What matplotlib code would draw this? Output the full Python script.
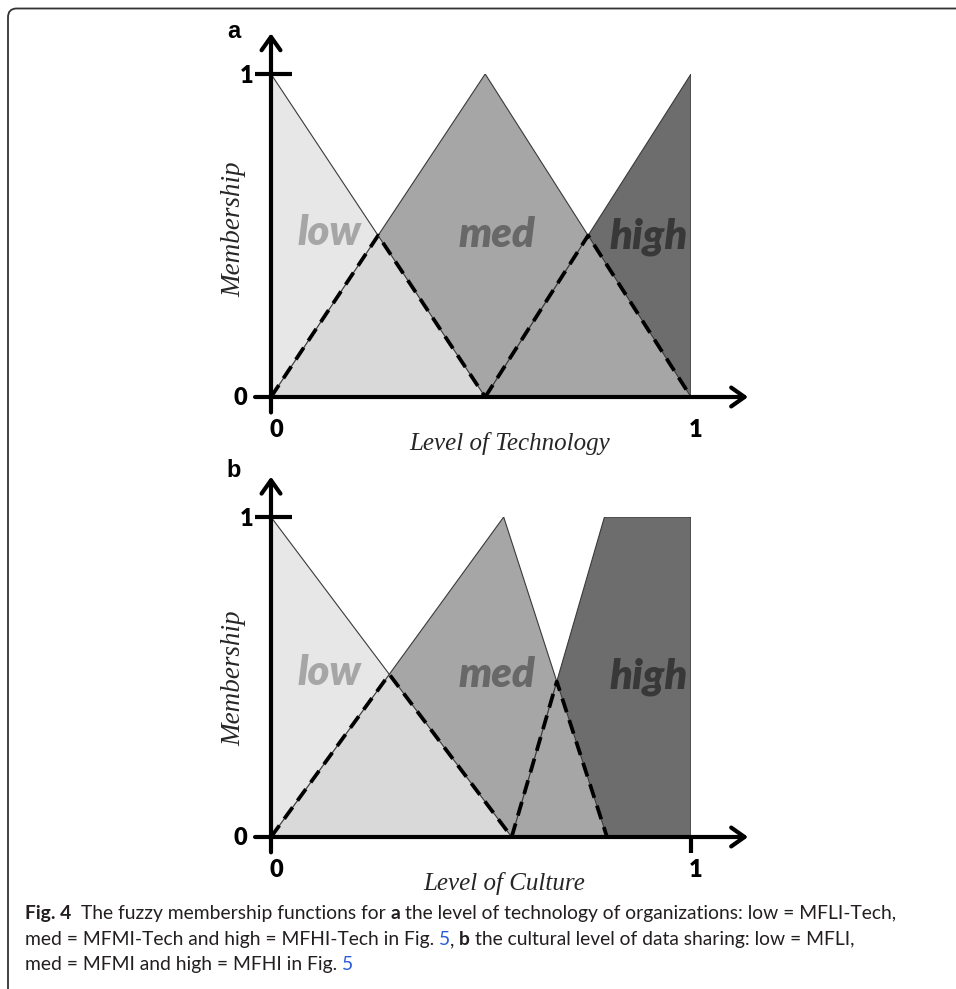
import numpy as np
import matplotlib
matplotlib.use("Agg")
import matplotlib.pyplot as plt
from matplotlib.patches import FancyBboxPatch

# panel a: level of technology (polygon vertices of each membership function)
tech_low_x = [0.0, 0.0, 0.51]
tech_low_y = [0.0, 1.0, 0.0]
tech_med_x = [0.0, 0.51, 1.0]
tech_med_y = [0.0, 1.0, 0.0]
tech_high_x = [0.51, 1.0, 1.0]
tech_high_y = [0.0, 1.0, 0.0]

# panel b: level of culture
cult_low_x = [0.0, 0.0, 0.573]
cult_low_y = [0.0, 1.0, 0.0]
cult_med_x = [0.0, 0.554, 0.80]
cult_med_y = [0.0, 1.0, 0.0]
cult_high_x = [0.573, 0.794, 1.0, 1.0]
cult_high_y = [0.0, 1.0, 1.0, 0.0]

set_names = ["low", "med", "high"]
tick_labels = ["0", "1"]

caption = [
    [("Fig. 4", "bold"), ("  The fuzzy membership functions for ", "normal"), ("a", "bold"),
     (" the level of technology of organizations: low = MFLI-Tech,", "normal")],
    [("med = MFMI-Tech and high = MFHI-Tech in Fig. ", "normal"), ("5", "link"), (", ", "normal"),
     ("b", "bold"), (" the cultural level of data sharing: low = MFLI,", "normal")],
    [("med = MFMI and high = MFHI in Fig. ", "normal"), ("5", "link")],
]

W, H = 956, 989
fill_cols = ["#e7e7e7", "#a6a6a6", "#6d6d6d"]
overlap_cols = ["#d9d9d9", "#a6a6a6"]
name_cols = ["#a6a6a6", "#686868", "#383838"]


def upper(xs, ys):
    ux = sorted(set(xs))
    uy = [max(y for x2, y in zip(xs, ys) if x2 == x) for x in ux]
    return ux, uy


def draw_panel(ax, sets, name_y, xlabel, xlabel_x, ylabel_y, tick_right):
    ax.set_xlim(0, 1)
    ax.set_ylim(0, 1)
    ax.axis("off")
    grid = np.linspace(0, 1, 2001)
    mus = []
    for (xs, ys), col in zip(sets, fill_cols):
        ax.fill(xs, ys, color=col, lw=0, zorder=1)
        ux, uy = upper(xs, ys)
        mus.append(np.interp(grid, ux, uy, left=0, right=0))
    overlaps = [np.minimum(mus[i], mus[i + 1]) for i in range(2)]
    for m, col in zip(overlaps, overlap_cols):
        ax.fill_between(grid, 0, m, color=col, lw=0, zorder=2)
    for xs, ys in sets:
        ax.plot(list(xs) + [xs[0]], list(ys) + [ys[0]], color="#3a3a3a", lw=0.8, zorder=3)
    for m in overlaps:
        idx = np.nonzero(m > 0)[0]
        s = slice(max(idx[0] - 1, 0), idx[-1] + 2)
        ax.plot(grid[s], m[s], color="black", lw=2.7, ls=(0, (3.8, 2.2)),
                dash_capstyle="butt", zorder=4)

    # axes with arrows
    arrow = dict(arrowstyle="->,head_length=0.48,head_width=0.34", lw=3.0, color="black",
                 shrinkA=0, shrinkB=0, mutation_scale=20)
    ax.annotate("", xy=(1.136, 0), xytext=(-0.038, 0), arrowprops=arrow,
                annotation_clip=False, zorder=6)
    ax.annotate("", xy=(0, 1.126), xytext=(0, -0.048), arrowprops=arrow,
                annotation_clip=False, zorder=6)
    ax.plot([-0.038, 0.05], [1, 1], color="black", lw=3.0, clip_on=False, zorder=6,
            solid_capstyle="butt")
    if tick_right:
        ax.plot([1, 1], [0, -0.05], color="black", lw=3.0, clip_on=False, zorder=6,
                solid_capstyle="butt")

    tick_kw = dict(family="Lato", fontweight="heavy", fontsize=17, color="black",
                   ha="center", va="baseline")
    ax.text(-0.057, 0.972, tick_labels[1], **tick_kw)
    ax.text(-0.074, -0.025, tick_labels[0], **tick_kw)
    ax.text(0.012, -0.125, tick_labels[0], **tick_kw)
    ax.text(1.012, -0.125, tick_labels[1], **tick_kw)

    ax.text(xlabel_x, -0.165, xlabel, family="Liberation Serif", style="italic",
            fontsize=18, color="#262626", ha="center", va="baseline")
    ax.text(-0.088, ylabel_y, "Membership", family="Liberation Serif", style="italic",
            fontsize=19.5, color="#262626", ha="center", va="center", rotation=90)

    for name, nx, ny, col in zip(set_names, [0.14, 0.539, 0.9], name_y, name_cols):
        ax.text(nx, ny, name, family="Lato", fontweight="heavy", style="italic",
                fontsize=30, color=col, ha="center", va="baseline", zorder=5)


fig = plt.figure(figsize=(W / 100, H / 100), dpi=100)

ax_a = fig.add_axes([271 / W, 1 - 397 / H, 420 / W, 323 / H])
draw_panel(ax_a,
           [(tech_low_x, tech_low_y), (tech_med_x, tech_med_y), (tech_high_x, tech_high_y)],
           [0.47, 0.465, 0.46], "Level of Technology", 0.569, 0.52, False)

ax_b = fig.add_axes([271 / W, 1 - 837 / H, 420 / W, 320 / H])
draw_panel(ax_b,
           [(cult_low_x, cult_low_y), (cult_med_x, cult_med_y), (cult_high_x, cult_high_y)],
           [0.476, 0.47, 0.465], "Level of Culture", 0.555, 0.496, True)

fig.text(234 / W, 1 - 38 / H, "a", family="Liberation Sans", fontweight="bold",
         fontsize=17, ha="center", va="baseline")
fig.text(234 / W, 1 - 477 / H, "b", family="Liberation Sans", fontweight="bold",
         fontsize=17, ha="center", va="baseline")

# frame: only top and left edges inside the picture
frame = FancyBboxPatch((8 / W, -0.1), 1.2, 1.1 - 8.5 / H, transform=fig.transFigure,
                       boxstyle="round,pad=0,rounding_size=0.009", fc="none",
                       ec="#333333", lw=1.3, zorder=0)
fig.patches.append(frame)

# caption with mixed bold / link segments
renderer = fig.canvas.get_renderer()
cap_colors = {"normal": "#231f20", "bold": "#231f20", "link": "#2a5bd7"}


def seg_kw(kind, size):
    return dict(family="Lato", fontsize=size, color=cap_colors[kind],
                fontweight="bold" if kind == "bold" else "normal")


def text_w(s, kw):
    t = fig.text(0, 0, s, **kw)
    w = t.get_window_extent(renderer).width
    t.remove()
    return w


def adv(s, kw):
    return text_w("|" + s + "|", kw) - text_w("||", kw)


def line_width(parts, size):
    return sum(adv(t, seg_kw(k, size)) for t, k in parts)


size = 10 * 874 / line_width(caption[0], 10)

for parts, y_px in zip(caption, [919, 945, 970]):
    x = 25
    for text, kind in parts:
        kw = seg_kw(kind, size)
        lead = len(text) - len(text.lstrip(" "))
        trail = len(text) - len(text.rstrip(" "))
        body = text.strip(" ")
        sp = adv(" ", kw)
        x += lead * sp
        fig.text(x / W, 1 - y_px / H, body, ha="left", va="baseline", **kw)
        x += adv(body, kw) + trail * sp

fig.savefig("out.png", dpi=100)
